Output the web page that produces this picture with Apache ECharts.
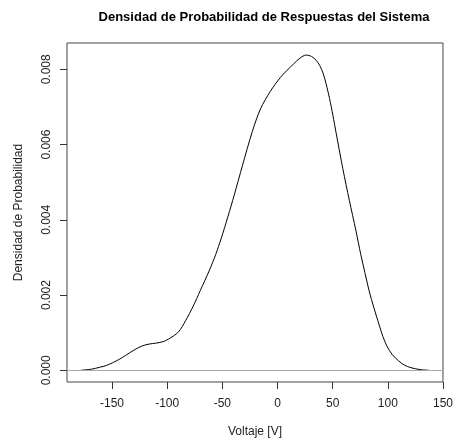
<!DOCTYPE html>
<html>
<head>
<meta charset="utf-8">
<script src="https://cdn.jsdelivr.net/npm/echarts@6/dist/echarts.min.js"></script>
<style>html,body{margin:0;padding:0;background:#fff}#c{width:456px;height:443px}</style>
</head>
<body>
<div id="c"></div>
<script>
// Data
const voltaje = [-178, -168.8, -161.3, -155, -149.5, -143, -137.5, -130, -122.6, -116, -110.7, -104, -98.8, -89.8, -83.3, -76.5, -70, -62, -56, -51.1, -45, -39.2, -31.7, -22.8, -15.4, -6.4, 2.5, 8.5, 14.5, 20.4, 26, 31, 35, 38.3, 41.3, 44, 47.2, 50.2, 53.2, 59.2, 65.1, 71.1, 75.5, 83.0, 87.5, 91.9, 95.5, 99.4, 104, 109.8, 115, 121, 129.2, 137];
const densidad = [0.000003, 0.00003, 0.00008, 0.00013, 0.0002, 0.0003, 0.0004, 0.00054, 0.00065, 0.0007, 0.00072, 0.00076, 0.00083, 0.00102, 0.00132, 0.0017, 0.00212, 0.00264, 0.00308, 0.0035, 0.00408, 0.00466, 0.00545, 0.00635, 0.00695, 0.00742, 0.00778, 0.00797, 0.00814, 0.0083, 0.00838, 0.00834, 0.00824, 0.0081, 0.0079, 0.00762, 0.00722, 0.00678, 0.0063, 0.00536, 0.00452, 0.00371, 0.00308, 0.00212, 0.00165, 0.00123, 0.0009, 0.00063, 0.00042, 0.00025, 0.00014, 0.00007, 0.00002, 0.000003];
const xTicks = [-150, -100, -50, 0, 50, 100, 150];
const yTicks = [0, 0.002, 0.004, 0.006, 0.008];

const chart = echarts.init(document.getElementById('c'), null, {renderer: 'canvas'});
const font = 'Liberation Sans, Arial, sans-serif';
chart.setOption({
  animation: false,
  title: {
    text: 'Densidad de Probabilidad de Respuestas del Sistema',
    left: 259, top: 6, textAlign: 'center',
    textStyle: {fontFamily: font, fontSize: 13, fontWeight: 'bold', color: '#000'}
  },
  grid: {left: 67, right: 8, top: 43, bottom: 61, show: true, borderColor: '#444', borderWidth: 1, backgroundColor: 'transparent'},
  xAxis: {
    type: 'value', min: -190.8, max: 150,
    name: 'Voltaje [V]', nameLocation: 'middle', nameGap: 44,
    nameTextStyle: {fontFamily: font, fontSize: 12, color: '#222'},
    axisLine: {show: false, onZero: false},
    axisTick: {show: true, inside: false, length: 7, customValues: xTicks, lineStyle: {color: '#333'}},
    axisLabel: {customValues: xTicks, margin: 16, fontFamily: font, fontSize: 12, color: '#222'},
    splitLine: {show: false}
  },
  yAxis: {
    type: 'value', min: -0.00031, max: 0.0087,
    name: 'Densidad de Probabilidad', nameLocation: 'middle', nameGap: 42, nameRotate: 90,
    nameTextStyle: {fontFamily: font, fontSize: 12, color: '#222'},
    axisLine: {show: false, onZero: false},
    axisTick: {show: true, inside: false, length: 7, customValues: yTicks, lineStyle: {color: '#333'}},
    axisLabel: {customValues: yTicks, rotate: 90, margin: 14, fontFamily: font, fontSize: 12, color: '#222',
      formatter: v => v.toFixed(3)},
    splitLine: {show: false}
  },
  series: [{
    type: 'line',
    data: voltaje.map((x, i) => [x, densidad[i]]),
    smooth: 0.3,
    showSymbol: false,
    lineStyle: {color: '#000', width: 1},
    markLine: {
      silent: true, symbol: 'none', label: {show: false},
      lineStyle: {color: '#aaa', type: 'solid', width: 1},
      data: [{yAxis: 0}]
    }
  }]
});
</script>
</body>
</html>
